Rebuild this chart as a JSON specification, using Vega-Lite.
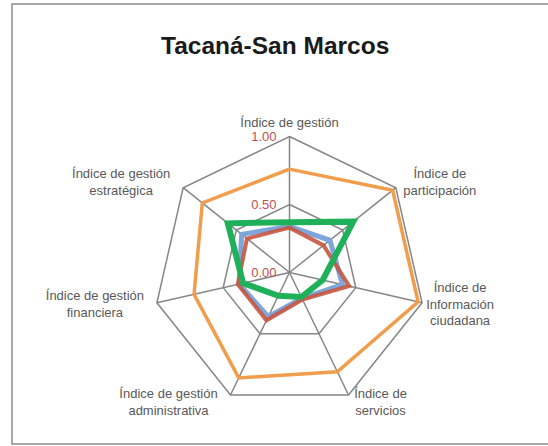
{
  "$schema": "https://vega.github.io/schema/vega-lite/v6.json",
  "width": 540,
  "height": 440,
  "padding": {"left": 12, "top": 4, "right": 0, "bottom": 2},
  "autosize": {"type": "none"},
  "background": "white",
  "title": {
    "text": "Tacaná-San Marcos",
    "font": "Liberation Sans",
    "fontSize": 24.5,
    "fontWeight": "bold",
    "color": "#1a1a1a",
    "anchor": "start",
    "orient": "top",
    "offset": 0,
    "baseline": "alphabetic",
    "dy": 74,
    "dx": 149
  },
  "config": {"view": {"stroke": "#8c8c8c", "strokeWidth": 1.5}},
  "datasets": {
    "axes": [
      {"idx": 0, "label": "Índice de gestión"},
      {"idx": 1, "label": "Índice de|participación"},
      {"idx": 2, "label": "Índice de|Información|ciudadana"},
      {"idx": 3, "label": "Índice de|servicios"},
      {"idx": 4, "label": "Índice de gestión|administrativa"},
      {"idx": 5, "label": "Índice de gestión|financiera"},
      {"idx": 6, "label": "Índice de gestión|estratégica"}
    ],
    "grid": [
      {"ring": 0.5, "idx": 0}, {"ring": 0.5, "idx": 1}, {"ring": 0.5, "idx": 2}, {"ring": 0.5, "idx": 3},
      {"ring": 0.5, "idx": 4}, {"ring": 0.5, "idx": 5}, {"ring": 0.5, "idx": 6},
      {"ring": 1.0, "idx": 0}, {"ring": 1.0, "idx": 1}, {"ring": 1.0, "idx": 2}, {"ring": 1.0, "idx": 3},
      {"ring": 1.0, "idx": 4}, {"ring": 1.0, "idx": 5}, {"ring": 1.0, "idx": 6}
    ],
    "ticks": [{"v": 0}, {"v": 0.5}, {"v": 1}],
    "scores": [
      {"series": "Serie 1", "idx": 0, "value": 0.76},
      {"series": "Serie 1", "idx": 1, "value": 0.97},
      {"series": "Serie 1", "idx": 2, "value": 0.97},
      {"series": "Serie 1", "idx": 3, "value": 0.81},
      {"series": "Serie 1", "idx": 4, "value": 0.86},
      {"series": "Serie 1", "idx": 5, "value": 0.72},
      {"series": "Serie 1", "idx": 6, "value": 0.82},
      {"series": "Serie 2", "idx": 0, "value": 0.34},
      {"series": "Serie 2", "idx": 1, "value": 0.38},
      {"series": "Serie 2", "idx": 2, "value": 0.40},
      {"series": "Serie 2", "idx": 3, "value": 0.21},
      {"series": "Serie 2", "idx": 4, "value": 0.36},
      {"series": "Serie 2", "idx": 5, "value": 0.38},
      {"series": "Serie 2", "idx": 6, "value": 0.45},
      {"series": "Serie 3", "idx": 0, "value": 0.33},
      {"series": "Serie 3", "idx": 1, "value": 0.32},
      {"series": "Serie 3", "idx": 2, "value": 0.45},
      {"series": "Serie 3", "idx": 3, "value": 0.22},
      {"series": "Serie 3", "idx": 4, "value": 0.39},
      {"series": "Serie 3", "idx": 5, "value": 0.39},
      {"series": "Serie 3", "idx": 6, "value": 0.40},
      {"series": "Serie 4", "idx": 0, "value": 0.37},
      {"series": "Serie 4", "idx": 1, "value": 0.60},
      {"series": "Serie 4", "idx": 2, "value": 0.25},
      {"series": "Serie 4", "idx": 3, "value": 0.20},
      {"series": "Serie 4", "idx": 4, "value": 0.19},
      {"series": "Serie 4", "idx": 5, "value": 0.35},
      {"series": "Serie 4", "idx": 6, "value": 0.58}
    ]
  },
  "encoding": {
    "x": {"field": "px", "type": "quantitative", "scale": {"domain": [-2.0404, 1.9301], "nice": false, "zero": false}, "axis": null},
    "y": {"field": "py", "type": "quantitative", "scale": {"domain": [-1.2610, 1.9743], "nice": false, "zero": false}, "axis": null}
  },
  "layer": [
    {
      "data": {"name": "grid"},
      "transform": [
        {"calculate": "datum.ring * sin(datum.idx * 2 * PI / 7)", "as": "px"},
        {"calculate": "datum.ring * cos(datum.idx * 2 * PI / 7)", "as": "py"}
      ],
      "mark": {"type": "line", "interpolate": "linear-closed", "color": "#868686", "strokeWidth": 1.5},
      "encoding": {"detail": {"field": "ring", "type": "nominal"}, "order": {"field": "idx", "type": "quantitative"}}
    },
    {
      "data": {"name": "axes"},
      "transform": [
        {"calculate": "0", "as": "px"},
        {"calculate": "0", "as": "py"},
        {"calculate": "sin(datum.idx * 2 * PI / 7)", "as": "vx"},
        {"calculate": "cos(datum.idx * 2 * PI / 7)", "as": "vy"}
      ],
      "mark": {"type": "rule", "color": "#868686", "strokeWidth": 1.5},
      "encoding": {"x2": {"field": "vx"}, "y2": {"field": "vy"}}
    },
    {
      "data": {"name": "scores"},
      "transform": [
        {"filter": "datum.series === 'Serie 1'"},
        {"calculate": "datum.value * sin(datum.idx * 2 * PI / 7)", "as": "px"},
        {"calculate": "datum.value * cos(datum.idx * 2 * PI / 7)", "as": "py"}
      ],
      "mark": {"type": "line", "interpolate": "linear-closed", "color": "#F09E4E", "strokeWidth": 3.5},
      "encoding": {"order": {"field": "idx", "type": "quantitative"}}
    },
    {
      "data": {"name": "scores"},
      "transform": [
        {"filter": "datum.series === 'Serie 2'"},
        {"calculate": "datum.value * sin(datum.idx * 2 * PI / 7)", "as": "px"},
        {"calculate": "datum.value * cos(datum.idx * 2 * PI / 7)", "as": "py"}
      ],
      "mark": {"type": "line", "interpolate": "linear-closed", "color": "#7EA6DA", "strokeWidth": 5},
      "encoding": {"order": {"field": "idx", "type": "quantitative"}}
    },
    {
      "data": {"name": "scores"},
      "transform": [
        {"filter": "datum.series === 'Serie 3'"},
        {"calculate": "datum.value * sin(datum.idx * 2 * PI / 7)", "as": "px"},
        {"calculate": "datum.value * cos(datum.idx * 2 * PI / 7)", "as": "py"}
      ],
      "mark": {"type": "line", "interpolate": "linear-closed", "color": "#C8553F", "strokeWidth": 4, "opacity": 0.9},
      "encoding": {"order": {"field": "idx", "type": "quantitative"}}
    },
    {
      "data": {"name": "scores"},
      "transform": [
        {"filter": "datum.series === 'Serie 4'"},
        {"calculate": "datum.value * sin(datum.idx * 2 * PI / 7)", "as": "px"},
        {"calculate": "datum.value * cos(datum.idx * 2 * PI / 7)", "as": "py"}
      ],
      "mark": {"type": "line", "interpolate": "linear-closed", "color": "#1FB05A", "strokeWidth": 6},
      "encoding": {"order": {"field": "idx", "type": "quantitative"}}
    },
    {
      "data": {"name": "ticks"},
      "transform": [
        {"calculate": "0", "as": "px"},
        {"calculate": "datum.v", "as": "py"}
      ],
      "mark": {"type": "text", "align": "right", "baseline": "middle", "dx": -13, "font": "Liberation Sans", "fontSize": 13, "color": "#C0504D"},
      "encoding": {"text": {"field": "v", "type": "quantitative", "format": ".2f"}}
    },
    {
      "data": {"name": "axes"},
      "transform": [
        {"calculate": "sin(datum.idx * 2 * PI / 7)", "as": "s"},
        {"calculate": "cos(datum.idx * 2 * PI / 7)", "as": "c"},
        {"calculate": "split(datum.label, '|')", "as": "lines"},
        {"calculate": "max(length(datum.lines[0]), length(datum.lines[1] || ''), length(datum.lines[2] || ''))", "as": "ml"},
        {"calculate": "abs(datum.s) < 0.01 ? 0 : datum.s + (datum.s > 0 ? 1 : -1) * (datum.ml * 3.0 + (datum.s > 0 ? 5 : 11)) / 136", "as": "px"},
        {"calculate": "datum.c * 1.06 + (abs(datum.s) < 0.01 ? 0.04 : 0) + (length(datum.lines) - 1) * 8.25 / 136", "as": "py"}
      ],
      "mark": {"type": "text", "align": "center", "baseline": "middle", "lineBreak": "|", "lineHeight": 16.5, "font": "Liberation Sans", "fontSize": 13, "color": "#595959"},
      "encoding": {"text": {"field": "label", "type": "nominal"}}
    }
  ]
}
